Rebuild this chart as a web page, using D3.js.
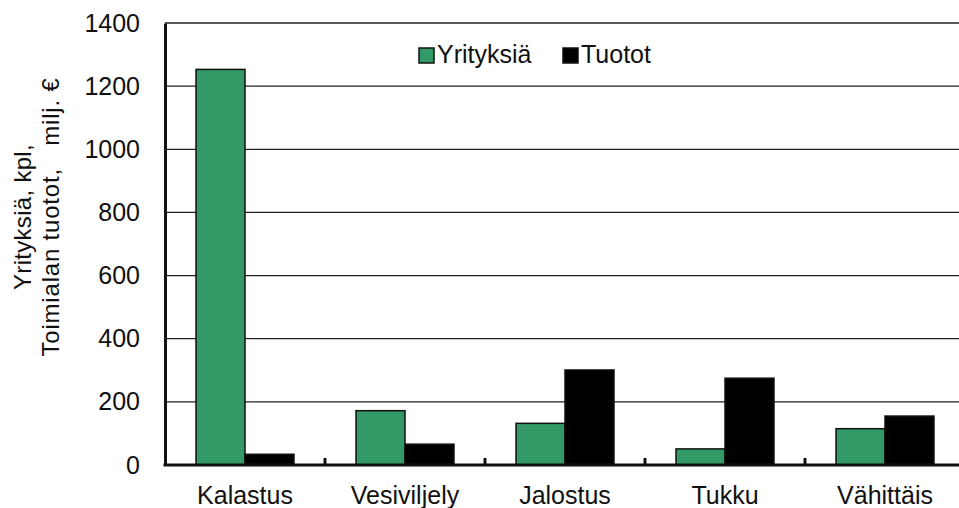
<!DOCTYPE html>
<html>
<head>
<meta charset="utf-8">
<script src="https://cdn.jsdelivr.net/npm/d3@7"></script>
<style>
  body { margin: 0; background: #fff; }
  text { font-family: "Liberation Sans", Arial, sans-serif; fill: #111; }
</style>
</head>
<body>
<div id="chart-area"></div>
<script>
const WIDTH = 959;
const HEIGHT = 508;

const categories = ["Kalastus", "Vesiviljely", "Jalostus", "Tukku", "Vähittäis"];
const seriesNames = ["Yrityksiä", "Tuotot"];
const yritykset = [1253, 172, 132, 51, 115];
const tuotot = [34, 66, 301, 275, 155];
const yTicks = [0, 200, 400, 600, 800, 1000, 1200, 1400];
const colors = { "Yrityksiä": "#339966", "Tuotot": "#000000" };

const margin = { left: 165, right: -6, top: 23, bottom: 43 };

const svg = d3.select("#chart-area").append("svg")
    .attr("width", WIDTH).attr("height", HEIGHT);

const x0 = d3.scaleBand().domain(categories).range([margin.left, WIDTH - margin.right]).padding(0);
const x1 = d3.scaleBand().domain(seriesNames).range([0, x0.bandwidth()]).paddingInner(0).paddingOuter(0.633);
const y = d3.scaleLinear().domain([0, 1400]).range([HEIGHT - margin.bottom, margin.top]);

const rows = categories.map((c, i) => ({ cat: c, values: [
    { key: "Yrityksiä", value: yritykset[i] },
    { key: "Tuotot", value: tuotot[i] }
]}));

// gridlines
svg.append("g").selectAll("line").data(yTicks).enter().append("line")
    .attr("x1", margin.left).attr("x2", WIDTH)
    .attr("y1", d => y(d)).attr("y2", d => y(d))
    .attr("stroke", "#222").attr("stroke-width", 1.3);

// bars
const groups = svg.append("g").selectAll("g").data(rows).enter().append("g")
    .attr("transform", d => `translate(${x0(d.cat)},0)`);
groups.selectAll("rect").data(d => d.values).enter().append("rect")
    .attr("x", d => x1(d.key))
    .attr("y", d => y(d.value))
    .attr("width", x1.bandwidth())
    .attr("height", d => y(0) - y(d.value))
    .attr("fill", d => colors[d.key])
    .attr("stroke", "#111").attr("stroke-width", 1.5);

// y axis
const yAxis = d3.axisLeft(y).tickValues(yTicks).tickSize(0).tickPadding(25).tickFormat(d3.format("d"));
const yG = svg.append("g").attr("transform", `translate(${margin.left},0)`).call(yAxis);
yG.select(".domain").attr("stroke", "#111").attr("stroke-width", 3);
yG.selectAll("text").attr("font-size", "25px").style("font-family", "Liberation Sans, Arial, sans-serif").attr("fill", "#111");

// x axis
const xG = svg.append("g").attr("transform", `translate(0,${y(0)})`);
xG.append("line").attr("x1", margin.left - 1.5).attr("x2", WIDTH)
    .attr("stroke", "#111").attr("stroke-width", 3);
xG.selectAll(".tick").data(categories.slice(1)).enter().append("line")
    .attr("x1", d => x0(d)).attr("x2", d => x0(d))
    .attr("y1", 0).attr("y2", -7)
    .attr("stroke", "#111").attr("stroke-width", 3);
xG.selectAll(".cat").data(categories).enter().append("text")
    .attr("x", d => x0(d) + x0.bandwidth() / 2)
    .attr("y", 39)
    .attr("text-anchor", "middle")
    .attr("font-size", "25px")
    .text(d => d);

// y axis title
const title = svg.append("text")
    .attr("transform", "translate(0,217) rotate(-90)")
    .attr("text-anchor", "middle")
    .attr("font-size", "24px");
title.append("tspan").attr("x", 0).attr("y", 31).attr("letter-spacing", "0.3px").text("Yrityksiä, kpl,");
title.append("tspan").attr("x", 0).attr("y", 59).attr("letter-spacing", "0.8px")
    .style("white-space", "pre").text("Toimialan tuotot,   milj. €");

// legend
const legend = svg.append("g");
const legendX = [419, 563];
seriesNames.forEach((s, i) => {
    legend.append("rect").attr("x", legendX[i]).attr("y", 48).attr("width", 15).attr("height", 15)
        .attr("fill", colors[s]).attr("stroke", "#111").attr("stroke-width", 1.5);
    legend.append("text").attr("x", legendX[i] + 18).attr("y", 63)
        .attr("font-size", "25px").text(s);
});
</script>
</body>
</html>
